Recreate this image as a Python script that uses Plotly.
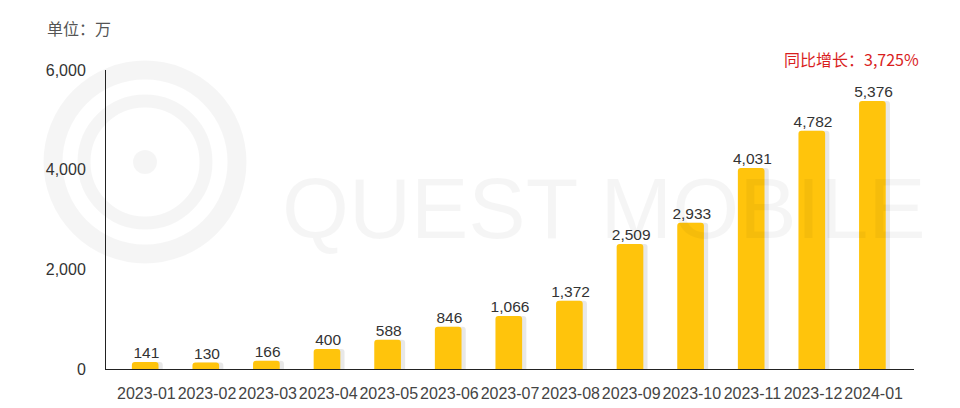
import plotly.graph_objects as go

months = ["2023-01", "2023-02", "2023-03", "2023-04", "2023-05", "2023-06", "2023-07",
          "2023-08", "2023-09", "2023-10", "2023-11", "2023-12", "2024-01"]
values = [141, 130, 166, 400, 588, 846, 1066, 1372, 2509, 2933, 4031, 4782, 5376]
y_ticks = [0, 2000, 4000, 6000]
unit_label = "单位：万"
yoy_label = "同比增长：3,725%"

FONT = "Liberation Sans, Arial, Noto Sans CJK SC, sans-serif"
WM = "rgba(0,0,0,0.04)"

fig = go.Figure()
# soft shadow behind bars
fig.add_trace(go.Bar(
    x=months, y=values, width=0.46, offset=-0.19,
    marker=dict(color="rgba(0,0,0,0.09)", cornerradius=3, line=dict(width=0)),
    hoverinfo="skip", showlegend=False,
))
fig.add_trace(go.Bar(
    x=months, y=values, width=0.44, offset=-0.24,
    marker=dict(color="#FFC40C", cornerradius=3, line=dict(width=0)),
    showlegend=False,
))
fig.add_trace(go.Scatter(
    x=months, y=values, mode="text",
    text=[f"{v:,}" for v in values], textposition="top center",
    textfont=dict(size=15.5, color="#333333", family=FONT),
    cliponaxis=False, showlegend=False, hoverinfo="skip",
))

# watermark logo geometry (paper units; plot area 808 x 299 px)
cx, cy = (145 - 106) / 808, (369 - 162) / 299
def ring(r_px, w_px, fill=None):
    d = dict(type="circle", xref="paper", yref="paper", layer="below",
             x0=cx - r_px / 808, x1=cx + r_px / 808,
             y0=cy - r_px / 299, y1=cy + r_px / 299)
    if fill:
        d.update(fillcolor=fill, line=dict(width=0))
    else:
        d.update(line=dict(color=WM, width=w_px))
    return d

fig.update_layout(
    width=960, height=408,
    margin=dict(l=98, r=54, t=62, b=47, autoexpand=False),
    paper_bgcolor="white", plot_bgcolor="rgba(0,0,0,0)",
    barmode="overlay",
    font=dict(family=FONT, size=15, color="#333333"),
    xaxis=dict(
        type="category", showline=True, linecolor="#222222", linewidth=1,
        ticks="", showgrid=False, tickfont=dict(size=16, color="#444444"),
        ticklabelstandoff=10, tickangle=0,
    ),
    yaxis=dict(
        range=[0, 6000], tickvals=y_ticks, tickformat=",",
        showline=True, linecolor="#222222", linewidth=1,
        showgrid=False, zeroline=False, ticks="",
        tickfont=dict(size=16, color="#333333"), ticklabelstandoff=16,
    ),
    annotations=[
        dict(text=unit_label, xref="paper", yref="paper", x=-0.0755, y=1.14,
             xanchor="left", yanchor="middle", showarrow=False,
             font=dict(size=16, color="#555555", family="Noto Sans CJK SC, sans-serif")),
        dict(text=yoy_label, xref="paper", yref="paper", x=1.0087, y=1.036,
             xanchor="right", yanchor="middle", showarrow=False,
             font=dict(size=16, color="#D91E1E", family="Noto Sans CJK SC, sans-serif")),
        dict(text="QUEST MOBILE", xref="paper", yref="paper", x=0.616, y=0.538,
             xanchor="center", yanchor="middle", showarrow=False,
             font=dict(size=86, color=WM, family="Liberation Sans, sans-serif")),
    ],
    shapes=[
        ring(92, 19),
        ring(61, 13),
        ring(12, 0, fill=WM),
        dict(type="line", xref="paper", yref="paper", layer="below",
             x0=(2 - 106) / 808, x1=(2 - 106) / 808, y0=-1, y1=2,
             line=dict(color="#D0D0D0", width=2)),
        dict(type="line", xref="paper", yref="paper", layer="below",
             x0=(957 - 106) / 808, x1=(957 - 106) / 808, y0=-1, y1=2,
             line=dict(color="#D0D0D0", width=2)),
    ],
)

fig.write_html("out.html")
